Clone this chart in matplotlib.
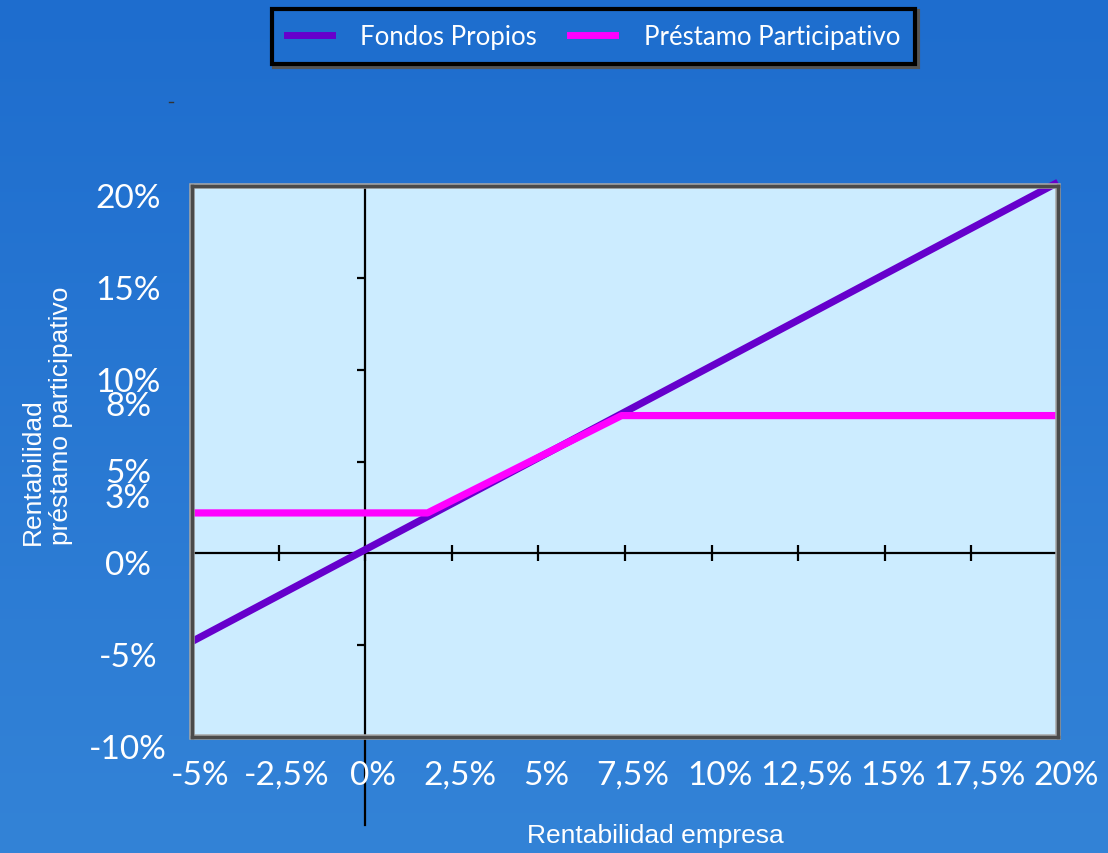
import numpy as np
import matplotlib
matplotlib.use("Agg")
import matplotlib.pyplot as plt
import matplotlib.transforms as mtransforms
from matplotlib.lines import Line2D
from matplotlib.patches import Rectangle

# --- datos ---
fondos_x = [-5, 20]
fondos_y = [-4.8, 20.2]
prestamo_x = [-5, 1.8, 7.4, 20]
prestamo_y = [2.2, 2.2, 7.5, 7.5]

x_ticks = [-5, -2.5, 0, 2.5, 5, 7.5, 10, 12.5, 15, 17.5, 20]
x_labels = ["-5%", "-2,5%", "0%", "2,5%", "5%", "7,5%", "10%", "12,5%", "15%", "17,5%", "20%"]
y_ticks = [20, 15, 10, 5, 0, -5, -10]
y_labels = ["20%", "15%", "10%", "5%", "0%", "-5%", "-10%"]
y_extra = [8, 3]
y_extra_labels = ["8%", "3%"]

C_FONDOS = "#6600CC"
C_PREST = "#FF00FF"
TICK_FONT = ["Lato", "DejaVu Sans"]
LEG_FONT = ["Lato", "DejaVu Sans"]
ARIAL = ["Liberation Sans", "DejaVu Sans"]

W, H = 1108, 854
fig = plt.figure(figsize=(W / 100, H / 100), dpi=100)

# fondo degradado azul
bg = fig.add_axes([0, 0, 1, 1], zorder=-10)
grad = np.linspace(0, 1, 256)[:, None]
top = np.array([30, 109, 206]) / 255
bot = np.array([51, 131, 215]) / 255
img = top[None, None, :] * (1 - grad[..., None]) + bot[None, None, :] * grad[..., None]
bg.imshow(np.repeat(img, 2, axis=1), aspect="auto", extent=[0, 1, 0, 1])
bg.set_axis_off()

ax = fig.add_axes([192 / W, (H - 738) / H, 866 / W, 551 / H])
ax.set_facecolor("#CCECFF")
ax.set_xlim(-5, 20)
ax.set_ylim(-10, 20)
ax.set_xticks([])
ax.set_yticks([])
for s in ax.spines.values():
    s.set_color("#4a4a4a")
    s.set_linewidth(2.5)
    s.set_zorder(6)
ax.add_patch(Rectangle((0, 0), 1, 1, transform=ax.transAxes, fill=False,
                       edgecolor="#a8a8a8", lw=4, zorder=5, clip_on=False))

# ejes internos
ax.plot([-5, 20], [0, 0], color="black", lw=1.6, zorder=3, clip_on=False)
ax.plot([0, 0], [-14.8, 20], color="black", lw=1.6, zorder=3, clip_on=False)
ax.plot(x_ticks, [0] * len(x_ticks), ls="none", marker="|", ms=11, mew=1.6,
        color="black", zorder=3, clip_on=False)
ax.plot([0] * len(y_ticks), y_ticks, ls="none", marker=0, ms=6, mew=1.6,
        color="black", zorder=3, clip_on=False)

# series
ax.plot(fondos_x, fondos_y, color=C_FONDOS, lw=5.2, solid_capstyle="butt",
        zorder=4, clip_on=False)
ax.plot(prestamo_x, prestamo_y, color=C_PREST, lw=5.2, solid_capstyle="butt",
        zorder=4.5, clip_on=False)

# etiquetas del eje x
offx = mtransforms.ScaledTranslation(8 / 100, 0, fig.dpi_scale_trans)
tx = mtransforms.blended_transform_factory(ax.transData, fig.transFigure) + offx
for v, lab in zip(x_ticks, x_labels):
    ax.text(v, (H - 776) / H, lab, transform=tx, ha="center", va="center",
            color="white", fontsize=24, family=TICK_FONT)

# etiquetas del eje y (se solapan como en el original)
ty = mtransforms.blended_transform_factory(fig.transFigure, ax.transData)
offy = mtransforms.ScaledTranslation(0, -12 / 100, fig.dpi_scale_trans)
for v, lab in zip(y_ticks, y_labels):
    ax.text(128 / W, v, lab, transform=ty + offy, ha="center", va="center",
            color="white", fontsize=24, family=TICK_FONT)
for v, lab in zip(y_extra, y_extra_labels):
    ax.text(128 / W, v, lab, transform=ty, ha="center", va="center",
            color="white", fontsize=24, family=TICK_FONT)

# títulos de ejes
fig.text(655 / W, (H - 836) / H, "Rentabilidad empresa", ha="center", va="center",
         color="white", fontsize=19, family=ARIAL)
fig.text(47 / W, (H - 545) / H, "Rentabilidad\npréstamo participativo", rotation=90,
         ha="center", va="bottom", multialignment="left", color="white",
         fontsize=19, family=ARIAL, linespacing=1.25)

# pequeña marca suelta
fig.add_artist(Line2D([169 / W, 173 / W], [(H - 103) / H] * 2, color="#333333", lw=1))

# leyenda
handles = [Line2D([], [], color=C_FONDOS, lw=5),
           Line2D([], [], color=C_PREST, lw=5)]
leg = fig.legend(handles, ["Fondos Propios", "Préstamo Participativo"], ncol=2,
                 loc="center", bbox_to_anchor=(593.5 / W, (H - 37.5) / H),
                 prop={"family": LEG_FONT, "size": 18.5}, labelcolor="white",
                 frameon=True, fancybox=False, shadow={"color": "#555555", "alpha": 1},
                 facecolor="#1E6ECE", edgecolor="black", framealpha=1,
                 handlelength=1.75, handletextpad=1.1, columnspacing=1.3,
                 borderpad=0.6)
leg.get_frame().set_linewidth(3)

fig.savefig("out.png", dpi=100)
